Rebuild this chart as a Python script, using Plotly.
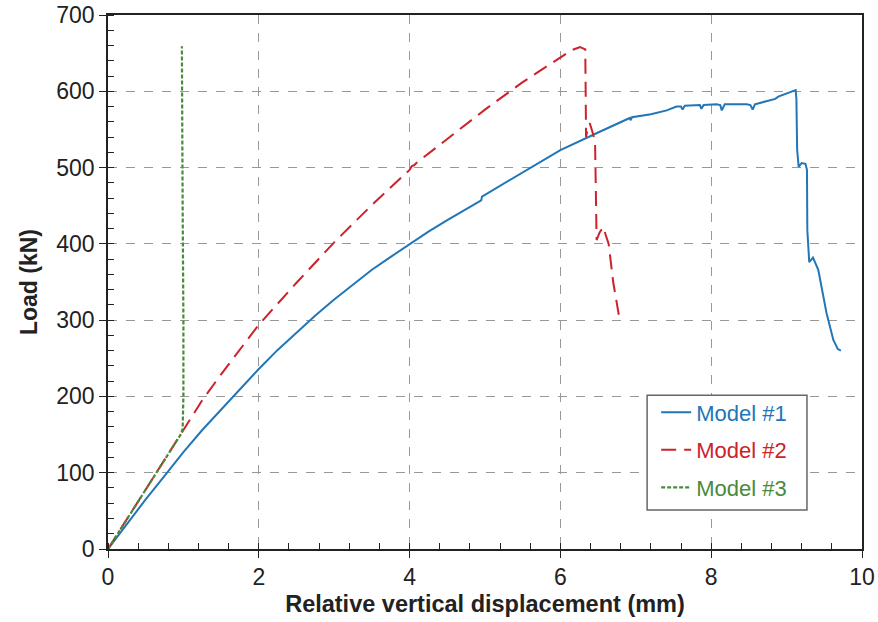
import plotly.graph_objects as go

# Model #1 (solid blue)
m1_x = [0, 0.25, 0.5, 0.75, 1.0, 1.25, 1.5, 1.75, 2.0, 2.25, 2.5, 2.75, 3.0, 3.25, 3.5, 3.75,
        4.0, 4.25, 4.5, 4.8, 4.93, 4.95, 4.96, 5.2, 5.5,
        6.0, 6.5, 6.9, 6.92, 6.93, 6.95, 7.2, 7.41, 7.54, 7.6, 7.62, 7.65, 7.85, 7.87, 7.9,
        8.07, 8.12, 8.14, 8.18, 8.38, 8.47, 8.52, 8.55, 8.58, 8.8, 8.85, 8.89, 9.0, 9.09,
        9.12, 9.13, 9.14, 9.16, 9.2, 9.25, 9.27, 9.275, 9.3, 9.35, 9.42, 9.53, 9.62, 9.68, 9.72]
m1_y = [0, 33, 65, 96, 127, 156, 183, 210, 236, 261, 284, 306, 327, 347, 366, 383,
        400, 416, 431, 449, 456, 457, 462, 476, 494,
        523, 546, 564, 565, 562, 566, 570, 575, 580, 580, 576, 581, 582, 577, 582,
        583, 582, 575, 583, 583, 583, 582, 576, 583, 588, 590, 593, 597, 600.7,
        601.6, 590, 523, 501, 506, 505, 497, 418, 376, 382, 366, 309, 274, 262, 260]

# Model #2 (dashed red)
m2_x = [0, 0.5, 0.97, 1.25, 1.5, 1.75, 2.0, 2.5, 3.0, 3.5, 4.0, 4.03, 4.06, 4.09, 4.31,
        4.7, 5.0, 5.5, 6.0, 6.15, 6.26, 6.33, 6.335, 6.34, 6.37, 6.39, 6.43, 6.46, 6.47,
        6.48, 6.52, 6.57, 6.6, 6.64, 6.7, 6.79]
m2_y = [0, 78, 151, 195, 229, 262, 294, 349, 402, 451, 497, 502, 503, 506, 523,
        553, 576, 612, 645, 654, 658, 655, 600, 540, 555, 558, 545, 532, 470,
        405, 415, 422, 412, 400, 350, 298]

# Model #3 (dotted green)
m3_x = [0, 0.5, 0.97, 0.99, 1.0, 1.0, 1.0, 0.99, 0.985, 0.98]
m3_y = [0, 78, 151, 158, 200, 300, 409, 450, 550, 659]

x_ticks = [0, 2, 4, 6, 8, 10]
y_ticks = [0, 100, 200, 300, 400, 500, 600, 700]

BLUE = "#2176b8"
RED = "#cc2229"
GREEN = "#4a8a3c"


def legend_name(text, color):
    return f'<span style="color:{color}">{text}</span>'


fig = go.Figure()
fig.add_trace(go.Scatter(x=m1_x, y=m1_y, mode="lines", name=legend_name("Model #1", BLUE),
                         line=dict(color=BLUE, width=2), legendgroup="a"))
fig.add_trace(go.Scatter(x=m2_x, y=m2_y, mode="lines", name=legend_name("Model #2", RED),
                         line=dict(color=RED, width=2, dash="15px,8px"), legendgroup="b"))
fig.add_trace(go.Scatter(x=m3_x, y=m3_y, mode="lines", name=legend_name("Model #3", GREEN),
                         line=dict(color=GREEN, width=2.2, dash="4px,2px"), legendgroup="c"))

# legend frame
fig.add_shape(type="rect", xref="paper", yref="paper",
              x0=0.715, x1=0.927, y0=0.073, y1=0.288,
              line=dict(color="#666", width=1.5), fillcolor="white", layer="above")

fig.update_layout(
    width=878, height=622,
    margin=dict(l=108, r=16, t=15, b=73),
    plot_bgcolor="white", paper_bgcolor="white",
    font=dict(family="Liberation Sans, Arial, sans-serif", size=22, color="#222"),
    showlegend=True,
    legend=dict(x=0.727, y=0.295, xanchor="left", yanchor="top",
                borderwidth=0, bgcolor="rgba(0,0,0,0)",
                tracegroupgap=6, font=dict(size=22)),
    xaxis=dict(range=[0, 10], tickvals=x_ticks, ticktext=[str(v) for v in x_ticks],
               automargin=False,
               showline=True, linecolor="#222", linewidth=1.5, mirror=True,
               ticks="outside", ticklen=7, tickcolor="#222", tickfont=dict(size=23),
               showgrid=True, gridcolor="#999", griddash="dash", gridwidth=1,
               zeroline=False,
               minor=dict(dtick=0.4, ticks="inside", ticklen=6, tickcolor="#222", showgrid=False),
               title=dict(text="<b>Relative vertical displacement (mm)</b>", standoff=6,
                          font=dict(size=23.5))),
    yaxis=dict(range=[0, 700], tickvals=y_ticks, ticktext=[str(v) for v in y_ticks],
               automargin=False,
               showline=True, linecolor="#222", linewidth=1.5, mirror=True,
               ticks="outside", ticklen=7, tickcolor="#222", tickfont=dict(size=23),
               showgrid=True, gridcolor="#999", griddash="dash", gridwidth=1,
               zeroline=False,
               minor=dict(dtick=20, ticks="inside", ticklen=6, tickcolor="#222", showgrid=False),
               title=dict(text="<b>Load (kN)</b>", standoff=12, font=dict(size=23))),
)

fig.write_html("out.html")
